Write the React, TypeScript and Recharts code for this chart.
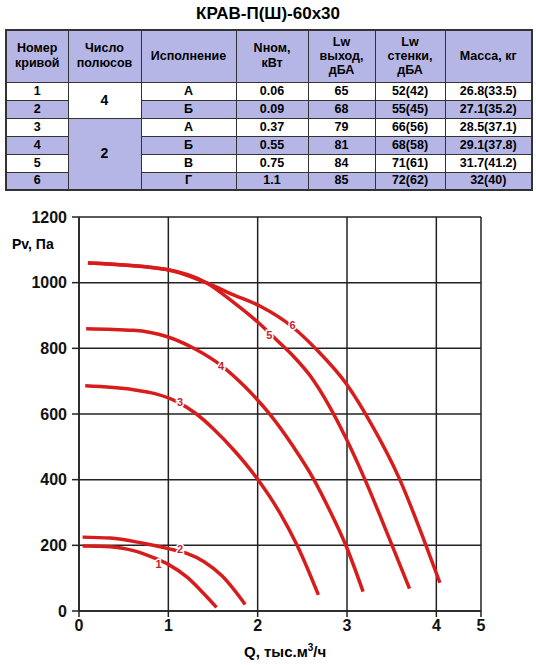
import React from 'react';
import { ComposedChart, Line, Scatter, XAxis, YAxis, CartesianGrid } from 'recharts';

const TITLE = 'КРАВ-П(Ш)-60x30';

const CURVE_NO = ['1', '2', '3', '4', '5', '6'];
const POLES = [{ text: '4', span: 2 }, { text: '2', span: 4 }];
const VARIANTS = ['А', 'Б', 'А', 'Б', 'В', 'Г'];
const POWER = ['0.06', '0.09', '0.37', '0.55', '0.75', '1.1'];
const LW_OUT = ['65', '68', '79', '81', '84', '85'];
const LW_WALL = ['52(42)', '55(45)', '66(56)', '68(58)', '71(61)', '72(62)'];
const MASS = ['26.8(33.5)', '27.1(35.2)', '28.5(37.1)', '29.1(37.8)', '31.7(41.2)', '32(40)'];

const X_TICKS = [0, 1, 2, 3, 4, 4.5];
const Y_TICKS = [0, 200, 400, 600, 800, 1000, 1200];

// Q, тыс.м3/ч -> Pv, Па
const curve1 = [
  { q: 0.04, p: 198 }, { q: 0.35, p: 196 }, { q: 0.61, p: 184 }, { q: 0.84, p: 162 },
  { q: 1.0, p: 142 }, { q: 1.21, p: 103 }, { q: 1.39, p: 55 }, { q: 1.54, p: 11 },
];
const curve2 = [
  { q: 0.04, p: 225 }, { q: 0.35, p: 222 }, { q: 0.69, p: 208 }, { q: 1.0, p: 190 },
  { q: 1.2, p: 176 }, { q: 1.4, p: 150 }, { q: 1.6, p: 107 }, { q: 1.86, p: 20 },
];
const curve3 = [
  { q: 0.07, p: 686 }, { q: 0.61, p: 674 }, { q: 0.85, p: 662 }, { q: 1.1, p: 637 },
  { q: 1.3, p: 603 }, { q: 1.5, p: 556 }, { q: 1.75, p: 485 }, { q: 2.0, p: 401 },
  { q: 2.25, p: 298 }, { q: 2.44, p: 201 }, { q: 2.68, p: 49 },
];
const curve4 = [
  { q: 0.08, p: 860 }, { q: 0.61, p: 855 }, { q: 0.98, p: 836 }, { q: 1.3, p: 798 },
  { q: 1.59, p: 748 }, { q: 1.85, p: 685 }, { q: 2.14, p: 598 }, { q: 2.4, p: 500 },
  { q: 2.62, p: 405 }, { q: 2.8, p: 310 }, { q: 2.99, p: 198 }, { q: 3.18, p: 59 },
];
const curve5 = [
  { q: 0.1, p: 1060 }, { q: 0.98, p: 1040 }, { q: 1.43, p: 999 }, { q: 1.73, p: 940 },
  { q: 2.0, p: 880 }, { q: 2.21, p: 826 }, { q: 2.4, p: 776 }, { q: 2.6, p: 712 },
  { q: 2.8, p: 625 }, { q: 3.0, p: 520 }, { q: 3.2, p: 401 }, { q: 3.5, p: 203 }, { q: 3.7, p: 68 },
];
const curve6 = [
  { q: 0.1, p: 1060 }, { q: 0.98, p: 1040 }, { q: 1.43, p: 999 }, { q: 1.73, p: 963 },
  { q: 2.03, p: 928 }, { q: 2.39, p: 865 }, { q: 2.66, p: 796 }, { q: 3.0, p: 689 },
  { q: 3.25, p: 580 }, { q: 3.59, p: 401 }, { q: 3.87, p: 210 }, { q: 4.04, p: 86 },
];
const CURVES = [curve1, curve2, curve3, curve4, curve5, curve6];

const curveLabels = [
  { q: 0.89, p: 142, t: '1' }, { q: 1.13, p: 189, t: '2' }, { q: 1.13, p: 636, t: '3' },
  { q: 1.59, p: 747, t: '4' }, { q: 2.13, p: 841, t: '5' }, { q: 2.39, p: 872, t: '6' },
];

const FONT = '"Liberation Sans", Arial, sans-serif';
const LAV = '#b6b6e6';
const RED = '#d81c1c';
const COL_W = [62, 73, 95, 72, 67, 70, 87];

const cell: React.CSSProperties = {
  border: '1.5px solid #333',
  padding: 0,
  textAlign: 'center',
  fontWeight: 'bold',
  fontSize: 12.5,
  lineHeight: '15px',
};

const LabelMark = (props: any) => {
  const { cx, cy, payload } = props;
  return (
    <text x={cx} y={cy} dy={4} textAnchor="middle" fontSize={11} fontWeight="bold"
      fontFamily={FONT} fill="#c8202a" stroke="#fff" strokeWidth={3} paintOrder="stroke">
      {payload.t}
    </text>
  );
};

export default function App() {
  return (
    <div style={{ position: 'absolute', left: 0, top: 0, width: 536, height: 665, background: '#fff', fontFamily: FONT }}>
      <div style={{ position: 'absolute', left: 0, top: 2, width: 536, textAlign: 'center', fontSize: 17, fontWeight: 'bold', lineHeight: '24px' }}>
        {TITLE}
      </div>
      <table style={{ position: 'absolute', left: 5, top: 29, width: 526, borderCollapse: 'collapse', tableLayout: 'fixed', border: '2px solid #333' }}>
        <colgroup>
          {COL_W.map((w, i) => <col key={i} style={{ width: w }} />)}
        </colgroup>
        <tbody>
          <tr style={{ height: 52, background: LAV }}>
            <td style={cell}>Номер<br />кривой</td>
            <td style={cell}>Число<br />полюсов</td>
            <td style={cell}>Исполнение</td>
            <td style={cell}>Nном,<br />кВт</td>
            <td style={{ ...cell, lineHeight: '14px' }}>Lw<br />выход,<br />дБА</td>
            <td style={{ ...cell, lineHeight: '14px' }}>Lw<br />стенки,<br />дБА</td>
            <td style={cell}>Масса, кг</td>
          </tr>
          {CURVE_NO.map((n, i) => {
            const bg = i % 2 === 1 ? LAV : '#fff';
            const poleStart = i === 0 ? POLES[0] : i === 2 ? POLES[1] : null;
            return (
              <tr key={n} style={{ height: 18, background: bg }}>
                <td style={cell}>{n}</td>
                {poleStart && (
                  <td rowSpan={poleStart.span} style={{ ...cell, fontSize: 14, background: i === 0 ? '#fff' : LAV }}>
                    {poleStart.text}
                  </td>
                )}
                <td style={cell}>{VARIANTS[i]}</td>
                <td style={cell}>{POWER[i]}</td>
                <td style={cell}>{LW_OUT[i]}</td>
                <td style={cell}>{LW_WALL[i]}</td>
                <td style={cell}>{MASS[i]}</td>
              </tr>
            );
          })}
        </tbody>
      </table>

      <div style={{ position: 'absolute', left: 0, top: 195 }}>
        <ComposedChart width={536} height={470} margin={{ top: 22, right: 55, left: 0, bottom: 0 }}>
          <CartesianGrid stroke="#222" strokeWidth={1.5} />
          <XAxis
            type="number"
            dataKey="q"
            domain={[0, 4.5]}
            ticks={X_TICKS}
            allowDataOverflow
            tickFormatter={(v: number) => (v === 4.5 ? '5' : String(v))}
            stroke="#222"
            strokeWidth={1.5}
            tickSize={6}
            tickMargin={3}
            height={54}
            tick={{ fill: '#111', fontSize: 16, fontWeight: 'bold', fontFamily: FONT }}
          />
          <YAxis
            type="number"
            dataKey="p"
            domain={[0, 1200]}
            ticks={Y_TICKS}
            stroke="#222"
            strokeWidth={1.5}
            tickSize={7}
            tickMargin={5}
            width={79}
            tick={{ fill: '#111', fontSize: 16, fontWeight: 'bold', fontFamily: FONT }}
          />
          {CURVES.map((d, i) => (
            <Line
              key={i}
              data={d}
              dataKey="p"
              type="monotone"
              stroke={RED}
              strokeWidth={3.5}
              dot={false}
              activeDot={false}
              isAnimationActive={false}
            />
          ))}
          <Scatter data={curveLabels} dataKey="p" shape={LabelMark} isAnimationActive={false} />
        </ComposedChart>
      </div>

      <div style={{ position: 'absolute', left: 12, top: 236, fontSize: 14, fontWeight: 'bold' }}>Pv, Па</div>
      <div style={{ position: 'absolute', left: 244, top: 643, fontSize: 15, fontWeight: 'bold' }}>
        Q, тыс.м<sup style={{ fontSize: 10, verticalAlign: 'top', lineHeight: '10px' }}>3</sup>/ч
      </div>
    </div>
  );
}
